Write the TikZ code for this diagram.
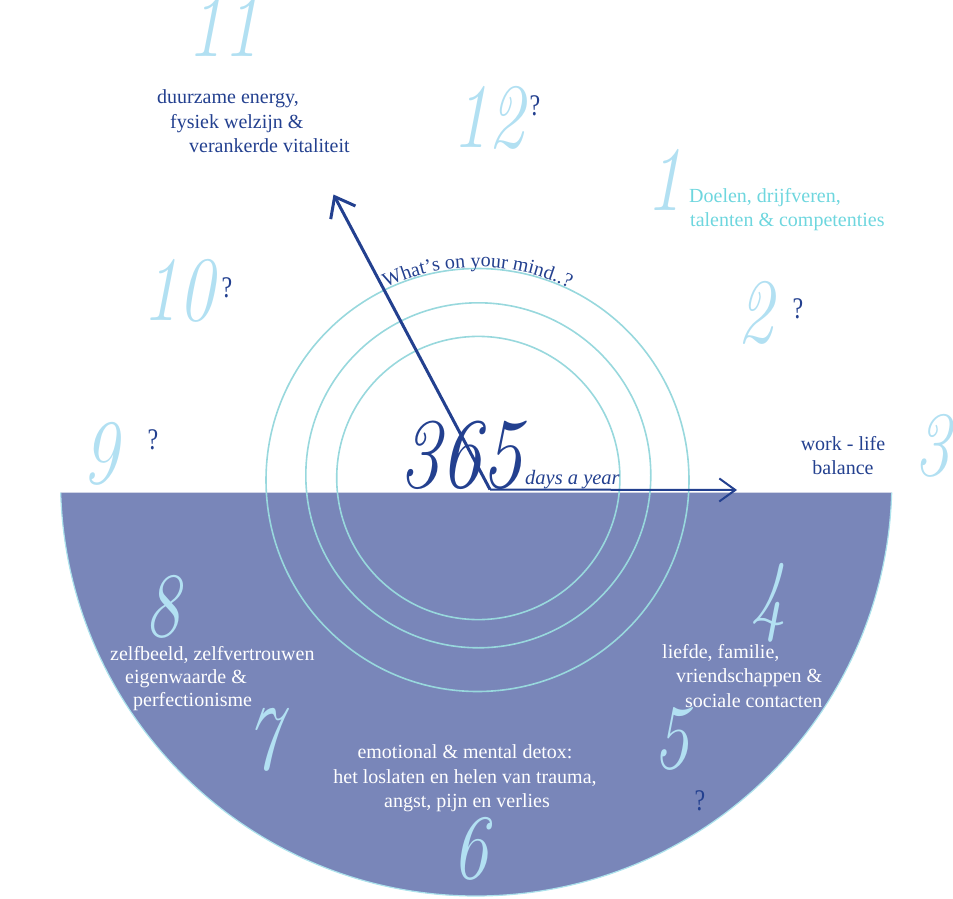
\documentclass[tikz,border=0pt]{standalone}
\usepackage{fontspec}
\usepackage{graphicx}
\usetikzlibrary{arrows.meta,decorations.text}
\newfontfamily\bodyfont{Liberation Serif}
\newfontfamily\digfont{Latin Modern Roman}
\definecolor{dkblue}{RGB}{35,64,143}
\definecolor{numblue}{RGB}{178,224,242}
\definecolor{cyantxt}{RGB}{110,214,222}
\definecolor{diskc}{RGB}{121,134,185}
\definecolor{edgec}{RGB}{172,226,236}
\definecolor{ringc}{RGB}{152,216,221}
\newcommand\sqz[1]{\scalebox{0.78}[1]{#1}}
\tikzset{
  bignum/.style={font=\digfont\fontsize{92}{92}\selectfont\itshape, text=numblue, inner sep=0pt, anchor=base},
  qmark/.style={font=\bodyfont\fontsize{30}{30}\selectfont, text=dkblue, inner sep=0pt, anchor=base},
  txt/.style={font=\bodyfont\fontsize{20}{24}\selectfont, inner sep=0pt, anchor=base west},
  txtc/.style={txt, anchor=base},
  ring/.style={draw=ringc, line width=1.6pt},
}
\begin{document}
\begin{tikzpicture}[x=1pt,y=1pt]
\useasboundingbox (0,0) rectangle (953,-899);
% half disk
\coordinate (dc) at (476.2,-480.3);
\fill[diskc] (dc) ++(181.71:415.7pt) arc[start angle=181.71,end angle=358.29,radius=415.7pt] -- cycle;
\draw[edgec, line width=1.2pt] (dc) ++(181.71:415.7pt) arc[start angle=181.71,end angle=358.29,radius=415.7pt];
% rings
\draw[ring] (477.5,-480) circle[radius=211.5pt];
\draw[ring] (478.3,-475.3) circle[radius=172.5pt];
\draw[ring] (478.3,-478) circle[radius=141.6pt];
% arrows
\coordinate (o) at (490,-489.5);
\coordinate (up) at (333.5,-194.5);
\coordinate (rt) at (737,-490);
\draw[dkblue, line width=3pt, -{Straight Barb[length=18pt,width=28pt]}] (o) -- (up);
\draw[dkblue, line width=2pt, -{Straight Barb[length=16pt,width=23pt]}] (o) -- (rt);
% 365
\node[font=\digfont\fontsize{100}{100}\selectfont\itshape, text=dkblue, inner sep=0pt, anchor=base] (n365) at (460.5,-487) {\scalebox{0.82}[1]{365}};
\node[font=\bodyfont\fontsize{20.5}{22}\selectfont\itshape, text=dkblue, inner sep=0pt, anchor=base west] (days) at (525,-484) {days a year};
% big numbers
\node[bignum] (n11) at (223,-57) {\sqz{11}};
\node[bignum] (n12) at (488,-147) {\sqz{12}};
\node[bignum] (n1) at (664,-210) {\sqz{1}};
\node[bignum] (n2) at (755,-342) {\sqz{2}};
\node[bignum] (n3) at (932,-475) {\sqz{3}};
\node[bignum] (n4) at (768,-624) {\sqz{4}};
\node[bignum] (n5) at (671,-768) {\sqz{5}};
\node[bignum] (n6) at (470,-878) {\sqz{6}};
\node[bignum] (n7) at (263,-769) {\sqz{7}};
\node[bignum] (n8) at (162,-636) {\sqz{8}};
\node[bignum] (n9) at (100,-483) {\sqz{9}};
\node[bignum] (n10) at (178,-320) {\sqz{10}};
% question marks
\node[qmark] (q12) at (535,-115) {\scalebox{0.8}[1]{?}};
\node[qmark] (q2) at (798,-318) {\scalebox{0.8}[1]{?}};
\node[qmark] (q10) at (227,-297) {\scalebox{0.8}[1]{?}};
\node[qmark] (q9) at (153,-449) {\scalebox{0.8}[1]{?}};
\node[qmark] (q5) at (700,-810) {\scalebox{0.8}[1]{?}};
% text 11
\node[txt, text=dkblue] (t11a) at (157,-103) {duurzame energy,};
\node[txt, text=dkblue] (t11b) at (170,-128) {fysiek welzijn \&};
\node[txt, text=dkblue] (t11c) at (189,-152) {verankerde vitaliteit};
% text 1
\node[txt, text=cyantxt] (t1a) at (689,-202) {Doelen, drijfveren,};
\node[txt, text=cyantxt] (t1b) at (690,-226) {talenten \& competenties};
% text 3
\node[txtc, text=dkblue] (t3a) at (843,-450) {work - life};
\node[txtc, text=dkblue] (t3b) at (843,-474) {balance};
% text 8
\node[txt, text=white] (t8a) at (110,-660) {zelfbeeld, zelfvertrouwen};
\node[txt, text=white] (t8b) at (125,-683) {eigenwaarde \&};
\node[txt, text=white] (t8c) at (133,-706) {perfectionisme};
% text 4
\node[txt, text=white] (t4a) at (662,-658) {liefde, familie,};
\node[txt, text=white] (t4b) at (676,-682) {vriendschappen \&};
\node[txt, text=white] (t4c) at (685,-707) {sociale contacten};
% text 6
\node[txtc, text=white] (t6a) at (465,-758) {emotional \& mental detox:};
\node[txtc, text=white] (t6b) at (465,-783) {het loslaten en helen van trauma,};
\node[txtc, text=white] (t6c) at (467,-807) {angst, pijn en verlies};
% curved text
\coordinate (rc) at (477.5,-480);
\path[decorate, decoration={text along path, text align=center,
  text={|\bodyfont\fontsize{20}{22}\selectfont\color{dkblue}|What’s on your mind..?}}]
  (rc) ++(140:213pt) arc[start angle=140,end angle=40,radius=213pt];
\end{tikzpicture}
\end{document}
